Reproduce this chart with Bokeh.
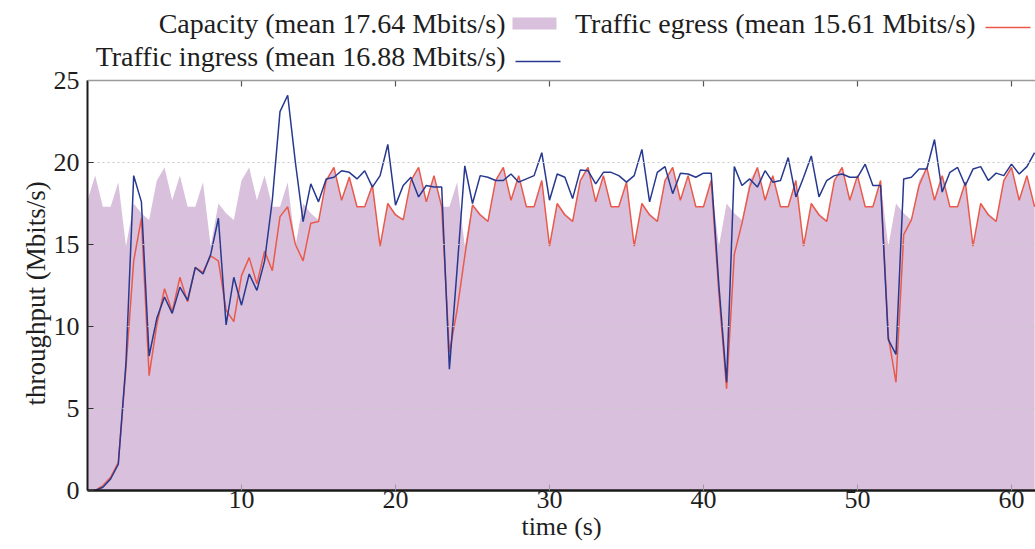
from bokeh.plotting import figure
from bokeh.models import Range1d, FixedTicker, ColumnDataSource, Span, Title
from bokeh.embed import file_html
from bokeh.resources import INLINE
from bokeh.core.properties import value

time_s = [i / 2 for i in range(124)]

capacity = [
    17.7, 19.2, 17.3, 17.3, 18.8, 14.9, 17.5, 16.9, 16.5, 18.9, 19.7,
    17.7, 19.2, 17.3, 17.3, 18.8, 14.9, 17.5, 16.9, 16.5, 18.9, 19.7,
    17.7, 19.2, 17.3, 17.3, 18.8, 14.9, 17.5, 16.9, 16.5, 18.9, 19.7,
    17.7, 19.2, 17.3, 17.3, 18.8, 14.9, 17.5, 16.9, 16.5, 18.9, 19.7,
    17.7, 19.2, 17.3, 17.3, 18.8, 14.9, 17.5, 16.9, 16.5, 18.9, 19.7,
    17.7, 19.2, 17.3, 17.3, 18.8, 14.9, 17.5, 16.9, 16.5, 18.9, 19.7,
    17.7, 19.2, 17.3, 17.3, 18.8, 14.9, 17.5, 16.9, 16.5, 18.9, 19.7,
    17.7, 19.2, 17.3, 17.3, 18.8, 14.9, 17.5, 16.9, 16.5, 18.9, 19.7,
    17.7, 19.2, 17.3, 17.3, 18.8, 14.9, 17.5, 16.9, 16.5, 18.9, 19.7,
    17.7, 19.2, 17.3, 17.3, 18.8, 14.9, 17.5, 16.9, 16.5, 18.9, 19.7,
    17.7, 19.2, 17.3, 17.3, 18.8, 14.9, 17.5, 16.9, 16.5, 18.9, 19.7,
    17.7, 19.2, 17.3,
]

ingress = [
    0.0, 0.0, 0.2, 0.7, 1.6, 7.8, 19.2, 17.6, 8.2, 10.5,         # 0 - 4.5
    11.8, 10.8, 12.4, 11.6, 13.6, 13.2, 14.4, 16.6, 10.1, 13.0,  # 5 - 9.5
    11.3, 13.2, 12.2, 14.0, 17.7, 23.1, 24.1, 20.0, 16.4, 18.7,  # 10 - 14.5
    17.6, 19.0, 19.1, 19.5, 19.4, 19.0, 19.5, 18.5, 19.2, 21.1,  # 15 - 19.5
    17.4, 18.6, 19.1, 17.9, 18.6, 18.5, 18.5, 7.4, 13.5, 19.8,   # 20 - 24.5
    17.5, 19.2, 19.1, 18.9, 18.9, 19.3, 18.8, 19.0, 19.2, 20.6,  # 25 - 29.5
    17.7, 19.3, 19.1, 17.8, 19.55, 19.5, 18.7, 19.4, 19.4, 19.2, # 30 - 34.5
    18.8, 19.2, 20.8, 17.6, 19.4, 19.75, 18.1, 19.35, 19.3, 19.1,# 35 - 39.5
    19.35, 19.35, 12.5, 6.6, 19.75, 18.6, 19.0, 18.5, 19.5, 18.8,# 40 - 44.5
    18.9, 20.3, 17.9, 19.1, 20.4, 17.9, 18.9, 19.2, 19.3, 19.1,  # 45 - 49.5
    19.1, 19.9, 18.6, 18.6, 9.2, 8.3, 19.0, 19.1, 19.6, 19.6,    # 50 - 54.5
    21.4, 18.2, 19.4, 19.7, 18.6, 19.6, 19.75, 18.9, 19.35, 19.2,# 55 - 59.5
    19.9, 19.3, 19.75, 20.6,                                     # 60 - 61.5
]

egress = [
    0.0, 0.0, 0.3, 0.8, 1.7, 7.5, 14.0, 16.6, 7.0, 10.1,         # 0 - 4.5
    12.3, 10.9, 13.0, 11.5, 13.6, 13.3, 14.3, 14.0, 11.0, 10.3,  # 5 - 9.5
    13.1, 14.2, 12.6, 14.6, 13.4, 16.7, 17.3, 15.0, 14.0, 16.3,  # 10 - 14.5
    16.4, 18.9, 19.7, 17.7, 19.1, 17.3, 17.3, 18.6, 14.9, 17.5,  # 15 - 19.5
    16.8, 16.5, 18.9, 19.7, 17.6, 19.2, 17.3, 8.4, 11.0, 14.3,   # 20 - 24.5
    17.4, 16.8, 16.4, 18.9, 19.7, 17.7, 19.2, 17.3, 17.3, 18.9,  # 25 - 29.5
    14.9, 17.5, 16.8, 16.4, 18.9, 19.7, 17.6, 19.2, 17.3, 17.3,  # 30 - 34.5
    18.8, 14.9, 17.5, 16.8, 16.4, 18.9, 19.7, 17.7, 19.2, 17.3,  # 35 - 39.5
    17.3, 18.9, 12.0, 6.2, 14.4, 16.3, 18.5, 19.7, 17.7, 19.2,   # 40 - 44.5
    17.3, 17.3, 18.9, 14.9, 17.5, 16.8, 16.4, 18.9, 19.7, 17.7,  # 45 - 49.5
    19.2, 17.3, 17.3, 18.9, 9.4, 6.6, 15.6, 16.5, 18.6, 19.7,    # 50 - 54.5
    17.7, 19.2, 17.3, 17.3, 18.8, 14.9, 17.5, 16.8, 16.4, 18.9,  # 55 - 59.5
    19.7, 17.7, 19.2, 17.3,                                      # 60 - 61.5
]

x_ticks = [10, 20, 30, 40, 50, 60]
y_ticks = [0, 5, 10, 15, 20, 25]
y_max = 25

legend_capacity = "Capacity (mean 17.64 Mbits/s)"
legend_egress = "Traffic egress (mean 15.61 Mbits/s)"
legend_ingress = "Traffic ingress (mean 16.88 Mbits/s)"
x_label = "time (s)"
y_label = "throughput (Mbits/s)"

# ---------------- styling / layout ----------------
FONT = "Liberation Serif"
TXT = "#1e1e1e"
C_CAP = "#d9c0dc"
C_EGR = "#ea5a4b"
C_ING = "#26398f"
W, H = 1035, 549
FRAME_L = 87          # px, left edge of the plotting box
FRAME_B = 490         # px, bottom edge (y = 0)
PX_PER_S = 15.4       # px per second
PX_PER_U = 16.4       # px per Mbit/s


def dx(px):
    return (px - FRAME_L) / PX_PER_S


def dy(py):
    return (FRAME_B - py) / PX_PER_U


src = ColumnDataSource(dict(t=time_s, cap=capacity, ing=ingress, egr=egress))

# frame covers the key area too; the y axis itself is bounded to 0..25
p = figure(width=W, height=H, x_range=Range1d(0, dx(W)), y_range=Range1d(0, dy(0)),
           output_backend="svg", toolbar_location=None,
           min_border_left=FRAME_L, min_border_right=0, min_border_top=0,
           min_border_bottom=H - FRAME_B)
p.outline_line_color = None
p.background_fill_color = "white"
p.border_fill_color = "white"

p.varea(x="t", y1=0, y2="cap", source=src, fill_color=C_CAP, level="underlay")
p.line(x="t", y="egr", source=src, line_color=C_EGR, line_width=1.5)
p.line(x="t", y="ing", source=src, line_color=C_ING, line_width=1.5)

# grid
p.xgrid.visible = False
p.ygrid.level = "glyph"
p.ygrid.ticker = FixedTicker(ticks=y_ticks[1:-1])
p.ygrid.grid_line_color = "#c9c9c9"
p.ygrid.grid_line_dash = "2 3"
p.ygrid.grid_line_width = 1

# axes
p.xaxis.ticker = FixedTicker(ticks=x_ticks)
p.yaxis.ticker = FixedTicker(ticks=y_ticks)
p.yaxis.bounds = (0, y_max)
for ax in (p.xaxis[0], p.yaxis[0]):
    ax.minor_tick_line_color = None
    ax.major_tick_in = 6
    ax.major_tick_out = 0
    ax.major_label_text_font = FONT
    ax.major_label_text_font_size = "26px"
    ax.major_label_text_color = TXT
    ax.axis_line_color = "#1a1a1a"
    ax.axis_label_text_font = FONT
    ax.axis_label_text_font_style = "normal"
    ax.axis_label_text_color = TXT

p.xaxis.axis_line_width = 2.5
p.xaxis.major_tick_line_color = "#9a9a9a"
p.xaxis.major_label_standoff = 0
p.xaxis.axis_label = x_label
p.xaxis.axis_label_text_font_size = "26px"
p.xaxis.axis_label_standoff = 1

p.yaxis.axis_line_width = 2
p.yaxis.major_tick_line_color = "#333333"
p.yaxis.major_label_standoff = 8

# y label as a side title so it can be centred on the 0..25 box rather than the frame
ytitle = Title(text=y_label, align="left", offset=FRAME_B - 405,
               text_font=FONT, text_font_size="27px", text_font_style="normal",
               text_color=TXT, standoff=0)
p.add_layout(ytitle, "left")

# top border of the plotting box with inward ticks
p.add_layout(Span(location=y_max, dimension="width", line_color="#9a9a9a", line_width=1.5))
p.segment(x0=x_ticks, y0=[y_max] * len(x_ticks), x1=x_ticks,
          y1=[y_max - 6 / PX_PER_U] * len(x_ticks), line_color="#555555", line_width=1.2)

# key (gnuplot style: text, then sample)
p.text(x=[dx(505), dx(975), dx(505)], y=[dy(23), dy(23), dy(56)],
       text=[legend_capacity, legend_egress, legend_ingress],
       text_align="right", text_baseline="middle",
       text_font=value(FONT), text_font_size="28px", text_color=TXT)
p.quad(left=[dx(512)], right=[dx(556)], bottom=[dy(29)], top=[dy(17)],
       fill_color=C_CAP, line_color=None)
p.segment(x0=[dx(985)], y0=[dy(27)], x1=[dx(1030)], y1=[dy(27)], line_color=C_EGR, line_width=1.5)
p.segment(x0=[dx(515)], y0=[dy(61)], x1=[dx(560)], y1=[dy(61)], line_color=C_ING, line_width=1.5)

open("out.html", "w").write(file_html(p, INLINE))
